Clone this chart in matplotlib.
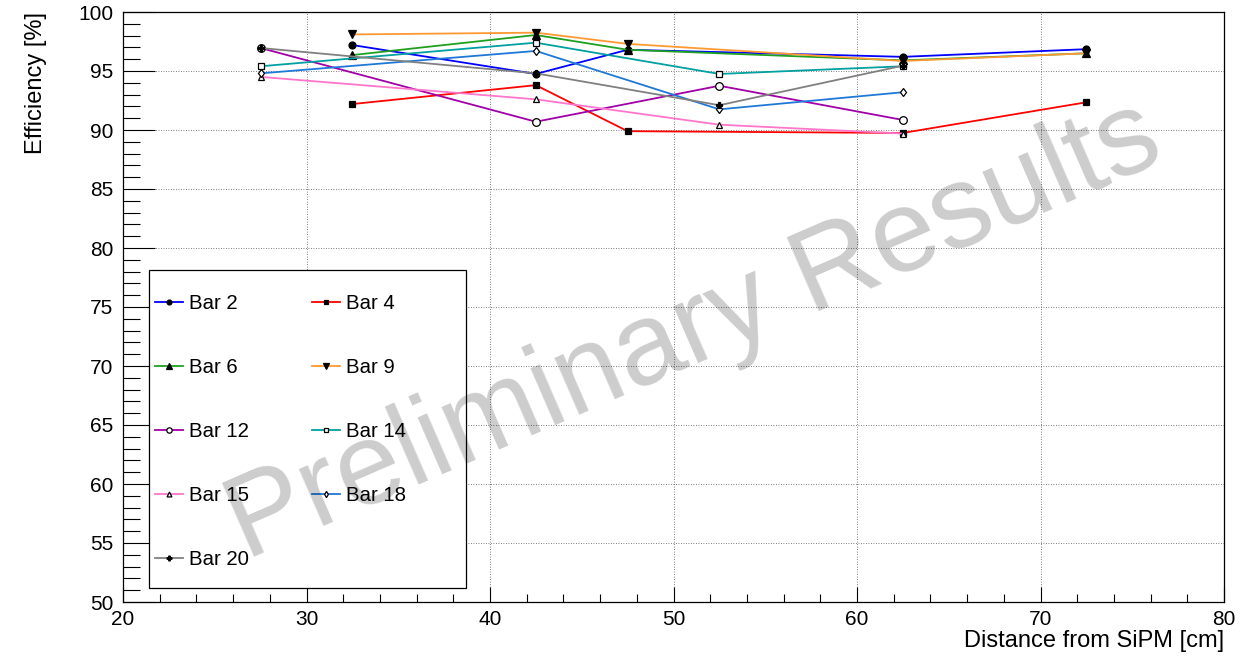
import matplotlib
matplotlib.use("Agg")
from matplotlib import pyplot as plt
from matplotlib.patches import Rectangle
from matplotlib.ticker import MultipleLocator

# efficiency vs distance, one series per bar
labels = ["Bar 2", "Bar 4", "Bar 6", "Bar 9", "Bar 12", "Bar 14", "Bar 15", "Bar 18", "Bar 20"]

bar2_x = [32.5, 42.5, 47.5, 62.5, 72.5]
bar2_y = [97.2, 94.75, 96.8, 96.2, 96.85]
bar4_x = [32.5, 42.5, 47.5, 62.5, 72.5]
bar4_y = [92.2, 93.8, 89.9, 89.75, 92.35]
bar6_x = [32.5, 42.5, 47.5, 62.5, 72.5]
bar6_y = [96.35, 98.05, 96.8, 95.9, 96.5]
bar9_x = [32.5, 42.5, 47.5, 62.5, 72.5]
bar9_y = [98.1, 98.25, 97.3, 95.85, 96.5]
bar12_x = [27.5, 42.5, 52.5, 62.5]
bar12_y = [96.95, 90.7, 93.75, 90.85]
bar14_x = [27.5, 42.5, 52.5, 62.5]
bar14_y = [95.4, 97.4, 94.75, 95.4]
bar15_x = [27.5, 42.5, 52.5, 62.5]
bar15_y = [94.5, 92.6, 90.45, 89.7]
bar18_x = [27.5, 42.5, 52.5, 62.5]
bar18_y = [94.8, 96.7, 91.75, 93.2]
bar20_x = [27.5, 42.5, 52.5, 62.5]
bar20_y = [96.95, 94.8, 92.1, 95.45]

xs = [bar2_x, bar4_x, bar6_x, bar9_x, bar12_x, bar14_x, bar15_x, bar18_x, bar20_x]
ys = [bar2_y, bar4_y, bar6_y, bar9_y, bar12_y, bar14_y, bar15_y, bar18_y, bar20_y]

colors = ["#0000ff", "#ff0000", "#1fa01f", "#ff9933", "#a000a8",
          "#00a0a0", "#ff77cc", "#1f78d8", "#808080"]
markers = ["o", "s", "^", "v", "o", "s", "^", "d", "P"]
filled = [True, True, True, True, False, False, False, False, True]
msizes = [5, 5, 5.5, 5.5, 5.5, 5, 5, 4.5, 5]

plt.rcParams["font.family"] = ["Liberation Sans", "DejaVu Sans"]

fig = plt.figure(figsize=(12.46, 6.57), dpi=100)
ax = fig.add_axes([123 / 1246, 1 - 602 / 657, 1101 / 1246, 590 / 657])

handles = []
for i in range(len(labels)):
    h, = ax.plot(xs[i], ys[i], color=colors[i], lw=1.3, marker=markers[i],
                 ms=msizes[i], mec="black", mew=0.9,
                 mfc="black" if filled[i] else "white", label=labels[i], zorder=3)
    handles.append(h)

ax.set_xlim(20, 80)
ax.set_ylim(50, 100)
ax.xaxis.set_major_locator(MultipleLocator(10))
ax.xaxis.set_minor_locator(MultipleLocator(2))
ax.yaxis.set_major_locator(MultipleLocator(5))
ax.yaxis.set_minor_locator(MultipleLocator(1))
ax.tick_params(axis="both", which="both", direction="in", labelsize=15, width=0.8)
ax.tick_params(axis="x", which="major", length=11, pad=6)
ax.tick_params(axis="x", which="minor", length=6)
ax.tick_params(axis="y", which="major", length=23, pad=7)
ax.tick_params(axis="y", which="minor", length=12)
ax.grid(True, which="major", color="#555555", lw=0.6, ls=(0, (1, 2)))
ax.set_axisbelow(True)
for s in ax.spines.values():
    s.set_linewidth(0.9)

ax.set_xlabel("Distance from SiPM [cm]", fontsize=17, loc="right")
ax.xaxis.set_label_coords(1.0, -0.048)
ax.set_ylabel("Efficiency [%]", fontsize=17, loc="top")
ax.yaxis.set_label_coords(-0.069, 1.0)

# legend box, entries filled row by row like ROOT
box = Rectangle((149 / 1246, 1 - 588 / 657), 317 / 1246, 318 / 657,
                transform=fig.transFigure, facecolor="white", edgecolor="black",
                lw=0.9, zorder=5)
ax.add_patch(box)
box.set_clip_on(False)
order = [0, 2, 4, 6, 8, 1, 3, 5, 7]
leg = ax.legend(handles=[handles[k] for k in order], ncol=2, loc="upper left",
                bbox_to_anchor=(155 / 1246, 1 - 294 / 657),
                bbox_transform=fig.transFigure, frameon=False, fontsize=14.7,
                handlelength=1.35, handletextpad=0.3, labelspacing=2.2,
                columnspacing=3.1, borderpad=0, borderaxespad=0, markerscale=0.7)
leg.set_zorder(6)

# translucent watermark on top of everything
fig.text(0.557, 0.495, "Preliminary Results", fontsize=84, color="black", alpha=0.2,
         rotation=23.5, ha="center", va="center", rotation_mode="anchor", zorder=10)

fig.savefig("out.png", dpi=100)
